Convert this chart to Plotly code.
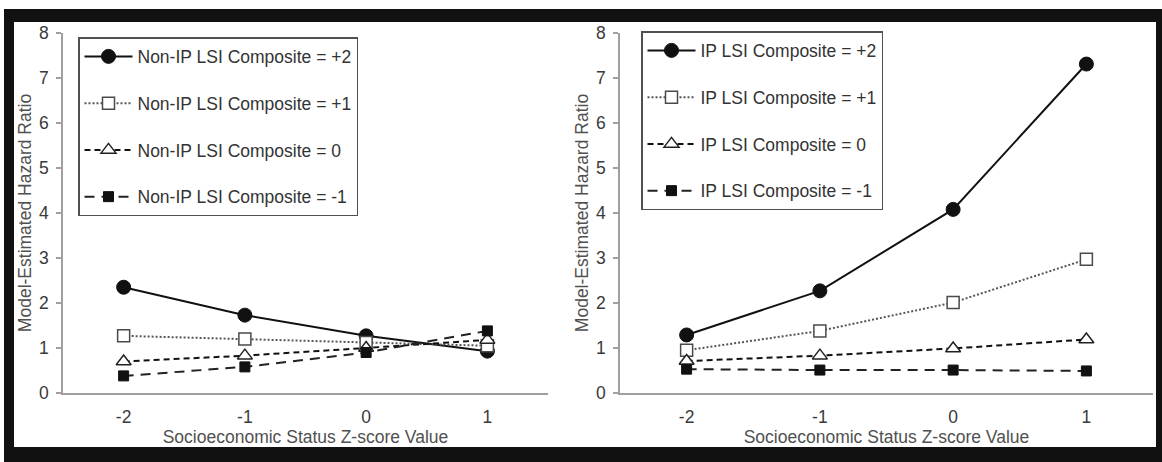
import plotly.graph_objects as go

# ---------------- data ----------------
ses_z = [-2, -1, 0, 1]
x_tick_labels = ["-2", "-1", "0", "1"]
y_tick_values = [0, 1, 2, 3, 4, 5, 6, 7, 8]

non_ip_names = ["Non-IP LSI Composite = +2", "Non-IP LSI Composite = +1",
                "Non-IP LSI Composite = 0", "Non-IP LSI Composite = -1"]
ip_names = ["IP LSI Composite = +2", "IP LSI Composite = +1",
            "IP LSI Composite = 0", "IP LSI Composite = -1"]

non_ip_plus2 = [2.35, 1.73, 1.27, 0.93]
non_ip_plus1 = [1.27, 1.20, 1.12, 1.05]
non_ip_zero = [0.70, 0.83, 1.00, 1.18]
non_ip_minus1 = [0.38, 0.58, 0.90, 1.38]

ip_plus2 = [1.29, 2.27, 4.08, 7.31]
ip_plus1 = [0.95, 1.38, 2.01, 2.97]
ip_zero = [0.71, 0.83, 0.99, 1.19]
ip_minus1 = [0.53, 0.51, 0.51, 0.49]

# ---------------- styles ----------------
FONT = "Arial, 'Liberation Sans', sans-serif"
styles = [
    dict(line=dict(color="#111111", width=2, dash="solid"),
         marker=dict(symbol="circle", size=14, color="#111111",
                     line=dict(color="#111111", width=1))),
    dict(line=dict(color="#555555", width=2, dash="2px,2px"),
         marker=dict(symbol="square", size=12, color="white",
                     line=dict(color="#4a4a4a", width=1.5))),
    dict(line=dict(color="#111111", width=2, dash="6px,4px"),
         marker=dict(symbol="triangle-up", size=13, color="white",
                     line=dict(color="#222222", width=1.5))),
    dict(line=dict(color="#222222", width=2, dash="10px,7px"),
         marker=dict(symbol="square", size=10, color="#111111",
                     line=dict(color="#111111", width=1))),
]

fig = go.Figure()
left_series = [non_ip_plus2, non_ip_plus1, non_ip_zero, non_ip_minus1]
right_series = [ip_plus2, ip_plus1, ip_zero, ip_minus1]

for i, (name, vals) in enumerate(zip(non_ip_names, left_series)):
    fig.add_trace(go.Scatter(x=ses_z, y=vals, name=name, mode="lines+markers",
                             xaxis="x", yaxis="y", legend="legend",
                             legendgroup="L%d" % i, **styles[i]))
for i, (name, vals) in enumerate(zip(ip_names, right_series)):
    fig.add_trace(go.Scatter(x=ses_z, y=vals, name=name, mode="lines+markers",
                             xaxis="x2", yaxis="y2", legend="legend2",
                             legendgroup="R%d" % i, **styles[i]))

W, H = 1162, 462
ML, MR, MT, MB = 63, 9, 33, 69
PW, PH = W - ML - MR, H - MT - MB


def px(xp):
    return (xp - ML) / PW


def py(yp):
    return (H - MB - yp) / PH


axis_common = dict(showline=True, linecolor="#a0a0a0", linewidth=1.5,
                   showgrid=False, zeroline=False, automargin=False,
                   tickfont=dict(family=FONT, size=17.5, color="#3a3a3a"))

xcommon = dict(axis_common, range=[-2.5, 1.5], tickvals=ses_z,
               ticktext=x_tick_labels, ticks="", ticklabelstandoff=7,
               title=dict(text="Socioeconomic Status Z-score Value",
                          font=dict(family=FONT, size=17.5, color="#505050"),
                          standoff=5))
ycommon = dict(axis_common, range=[0, 8], tickvals=y_tick_values,
               ticks="outside", ticklen=5, tickcolor="#a0a0a0", tickwidth=1.5,
               ticklabelstandoff=4,
               title=dict(text="Model-Estimated Hazard Ratio",
                          font=dict(family=FONT, size=17.5, color="#505050"),
                          standoff=3))

legend_common = dict(bgcolor="white", bordercolor="#505050", borderwidth=1.5,
                     font=dict(family=FONT, size=17.5, color="#333333"),
                     tracegroupgap=21, xanchor="left", yanchor="top",
                     itemwidth=48, itemclick=False)

fig.update_layout(
    width=W, height=H,
    margin=dict(l=ML, r=MR, t=MT, b=MB),
    paper_bgcolor="#111111", plot_bgcolor="white",
    template="none",
    font=dict(family=FONT, size=17.5, color="#333333"),
    xaxis=dict(xcommon, domain=[0, px(548)], anchor="y"),
    yaxis=dict(ycommon, domain=[0, 1], anchor="x"),
    xaxis2=dict(xcommon, domain=[px(620), 1], anchor="y2"),
    yaxis2=dict(ycommon, domain=[0, 1], anchor="x2"),
    legend=dict(legend_common, x=px(78), y=py(37)),
    legend2=dict(legend_common, x=px(641), y=py(31)),
    shapes=[
        dict(type="rect", xref="paper", yref="paper", layer="below",
             x0=px(14), x1=px(1156), y0=py(447), y1=py(22),
             fillcolor="white", line=dict(width=0)),
        dict(type="rect", xref="paper", yref="paper", layer="below",
             x0=px(0), x1=px(W), y0=py(9), y1=py(0),
             fillcolor="white", line=dict(width=0)),
        dict(type="rect", xref="paper", yref="paper", layer="below",
             x0=px(0), x1=px(4), y0=py(H), y1=py(0),
             fillcolor="white", line=dict(width=0)),
    ],
)

fig.write_html("out.html",
               config={"displayModeBar": False},
               post_script="document.body.style.margin='0';"
                           "document.body.style.overflow='hidden';")
